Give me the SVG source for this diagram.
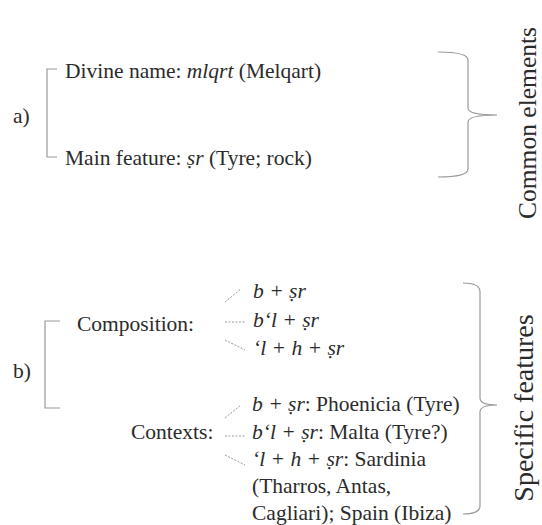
<svg xmlns="http://www.w3.org/2000/svg" width="542" height="525" viewBox="0 0 542 525">
<style>
text{font-family:"Liberation Serif","Times New Roman",serif;fill:#2b2b2b;font-size:21.5px}
.i{font-style:italic}
.v1{font-size:25.5px}
.v2{font-size:28px}
.br{fill:none;stroke:#9a9a9a;stroke-width:1.2}
.dot{fill:none;stroke:#9a9a9a;stroke-width:1;stroke-dasharray:2 1.5}
</style>
<rect width="542" height="525" fill="#fff"/>
<g id="a-label"><text x="13" y="123">a)</text></g>
<g id="a-bracket"><path class="br" d="M57,69 H47 V157 H57"/></g>
<g id="divine-name"><text x="65" y="78">Divine name: <tspan class="i">mlqrt</tspan> (Melqart)</text></g>
<g id="main-feature"><text x="65" y="165">Main feature: <tspan class="i">ṣr</tspan> (Tyre; rock)</text></g>
<g id="a-brace"><path class="br" d="M438,52 Q468,52 468,60 V108 Q468,115 497,115 Q468,115 468,122 V169 Q468,177 438,177"/></g>
<g id="common-elements"><text class="v1" text-anchor="middle" transform="translate(536,123) rotate(-90)">Common elements</text></g>

<g id="b-label"><text x="13" y="378">b)</text></g>
<g id="b-bracket"><path class="br" d="M60,321 H45 V408 H60"/></g>
<g id="composition"><text x="77" y="331">Composition:</text></g>
<g id="comp-1"><text x="253" y="298" class="i">b + ṣr</text></g>
<g id="comp-2"><text x="253" y="327" class="i">b‘l + ṣr</text></g>
<g id="comp-3"><text x="253" y="355" class="i">‘l + h + ṣr</text></g>
<g id="contexts"><text x="131" y="439">Contexts:</text></g>
<g id="ctx-1"><text x="252" y="411"><tspan class="i">b + ṣr</tspan>: Phoenicia (Tyre)</text></g>
<g id="ctx-2"><text x="252" y="439"><tspan class="i">b‘l + ṣr</tspan>: Malta (Tyre?)</text></g>
<g id="ctx-3"><text x="252" y="466"><tspan class="i">‘l + h + ṣr</tspan>: Sardinia</text><text x="252" y="493">(Tharros, Antas,</text><text x="252" y="520">Cagliari); Spain (Ibiza)</text></g>
<g id="b-brace"><path class="br" d="M463,283 Q480,283 480,292 V398 Q480,405 497,405 Q480,405 480,412 V506 Q480,514 463,514"/></g>
<g id="specific-features"><text class="v2" text-anchor="middle" transform="translate(533,408) rotate(-90)">Specific features</text></g>

<g id="connectors">
<path class="dot" d="M225,302 L241,289"/>
<path class="dot" d="M225,322 L245,322"/>
<path class="dot" d="M225,340 L245,350"/>
<path class="dot" d="M225,418 L241,405"/>
<path class="dot" d="M225,436 L245,436"/>
<path class="dot" d="M225,455 L245,465"/>
</g>
</svg>
